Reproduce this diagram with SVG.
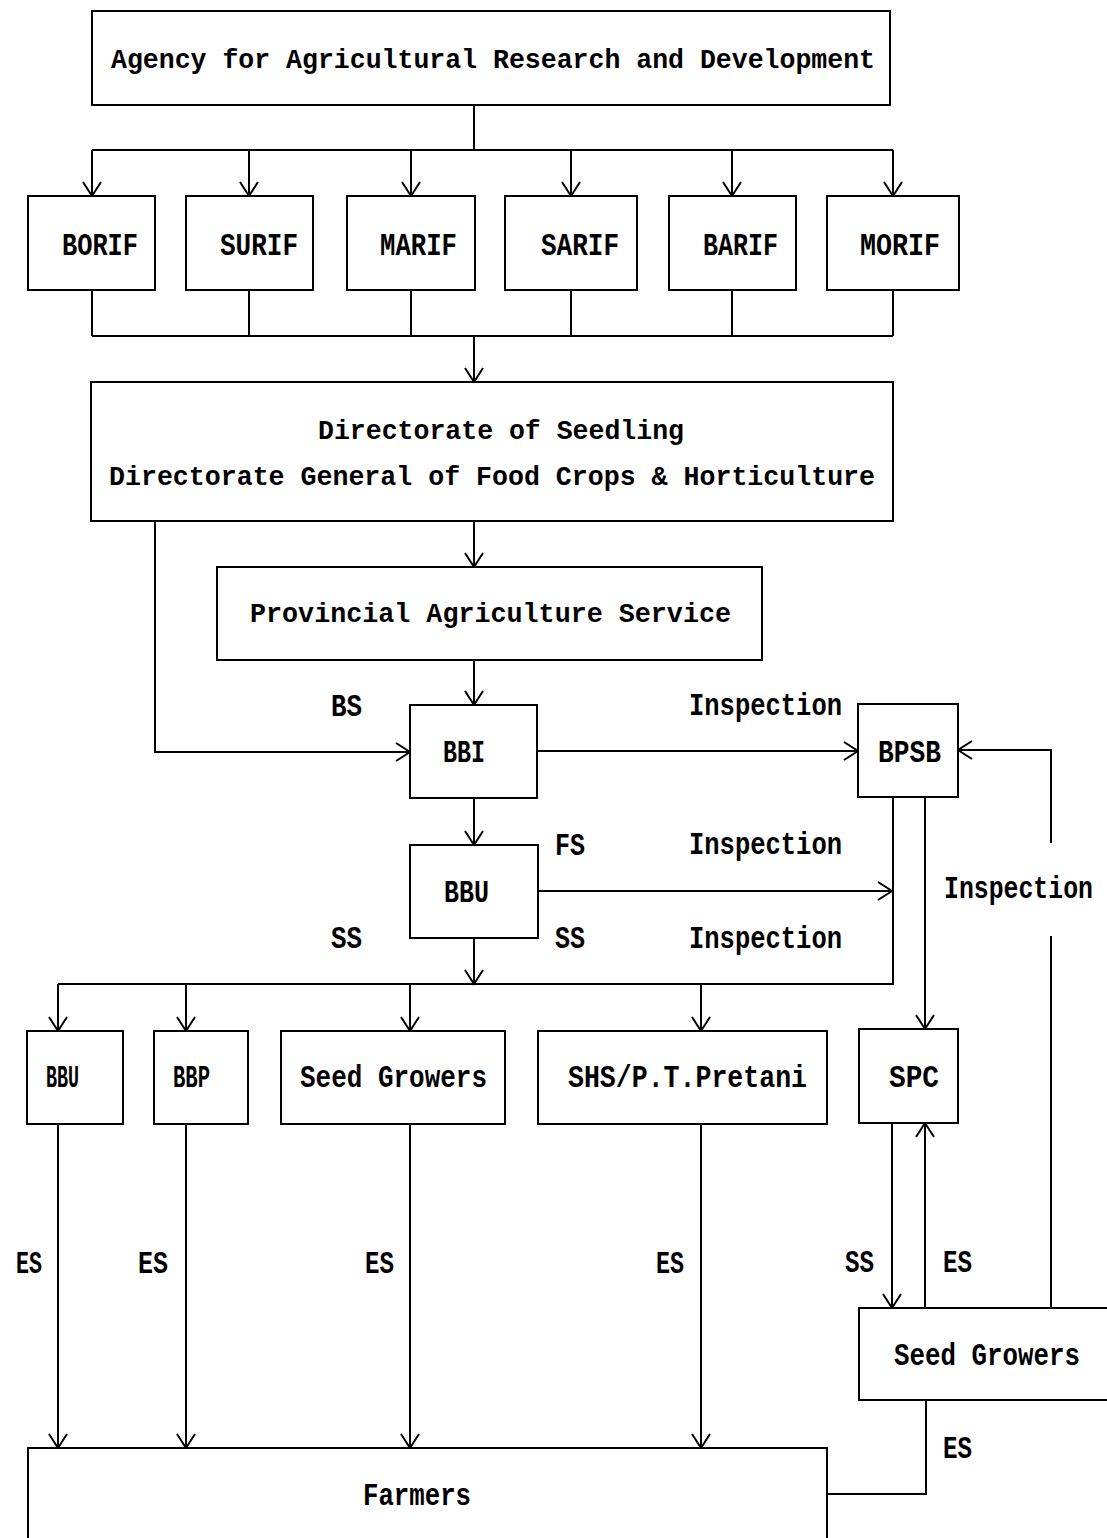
<svg xmlns="http://www.w3.org/2000/svg" width="1107" height="1538" viewBox="0 0 1107 1538">
<style>
.box{fill:#fff;stroke:#000;stroke-width:2}
.ln{fill:none;stroke:#000;stroke-width:2}
.ar{fill:none;stroke:#000;stroke-width:2;marker-end:url(#a)}
text{font-family:"Liberation Mono",monospace;fill:#000;font-weight:bold}
.t{font-size:28px}
.s{font-size:32px}
</style>
<defs>
<marker id="a" markerUnits="userSpaceOnUse" orient="auto" refX="0" refY="0" markerWidth="18" markerHeight="24" viewBox="-16 -12 18 24" overflow="visible">
<path d="M-14,-9 L0,0 L-14,9" fill="none" stroke="#000" stroke-width="2"/>
</marker>
</defs>
<rect width="1107" height="1538" fill="#fff"/>

<g id="connectors">
<path class="ln" d="M474,105 V150 M92,150 H893"/>
<path class="ar" d="M92,150 V196"/>
<path class="ar" d="M249,150 V196"/>
<path class="ar" d="M411,150 V196"/>
<path class="ar" d="M571,150 V196"/>
<path class="ar" d="M732,150 V196"/>
<path class="ar" d="M893,150 V196"/>
<path class="ln" d="M92,290 V336 M249,290 V336 M411,290 V336 M571,290 V336 M732,290 V336 M893,290 V336 M92,336 H893"/>
<path class="ar" d="M474,336 V382"/>
<path class="ar" d="M155,521 V752 H410"/>
<path class="ar" d="M474,521 V567"/>
<path class="ar" d="M474,660 V705"/>
<path class="ar" d="M537,751 H858"/>
<path class="ar" d="M1051,843 V750 H958"/>
<path class="ln" d="M1051,1308 V936"/>
<path class="ar" d="M474,798 V845"/>
<path class="ar" d="M538,891 H892"/>
<path class="ln" d="M893,797 V984 H58"/>
<path class="ar" d="M474,938 V984"/>
<path class="ar" d="M58,984 V1031"/>
<path class="ar" d="M186,984 V1031"/>
<path class="ar" d="M410,984 V1031"/>
<path class="ar" d="M701,984 V1031"/>
<path class="ar" d="M925,797 V1029"/>
<path class="ar" d="M58,1124 V1448"/>
<path class="ar" d="M186,1124 V1448"/>
<path class="ar" d="M410,1124 V1448"/>
<path class="ar" d="M701,1124 V1448"/>
<path class="ar" d="M892,1123 V1308"/>
<path class="ar" d="M925,1308 V1123"/>
<path class="ln" d="M926,1400 V1494 H827"/>
</g>

<g id="agency"><rect class="box" x="92" y="11" width="798" height="94"/>
<text class="t" x="111" y="68" textLength="764" lengthAdjust="spacingAndGlyphs">Agency for Agricultural Research and Development</text></g>

<g id="borif"><rect class="box" x="28" y="196" width="127" height="94"/><text class="s" x="62" y="255" textLength="76" lengthAdjust="spacingAndGlyphs">BORIF</text></g>
<g id="surif"><rect class="box" x="186" y="196" width="127" height="94"/><text class="s" x="220" y="255" textLength="78" lengthAdjust="spacingAndGlyphs">SURIF</text></g>
<g id="marif"><rect class="box" x="347" y="196" width="128" height="94"/><text class="s" x="380" y="255" textLength="77" lengthAdjust="spacingAndGlyphs">MARIF</text></g>
<g id="sarif"><rect class="box" x="505" y="196" width="132" height="94"/><text class="s" x="541" y="255" textLength="78" lengthAdjust="spacingAndGlyphs">SARIF</text></g>
<g id="barif"><rect class="box" x="669" y="196" width="127" height="94"/><text class="s" x="703" y="255" textLength="75" lengthAdjust="spacingAndGlyphs">BARIF</text></g>
<g id="morif"><rect class="box" x="827" y="196" width="132" height="94"/><text class="s" x="860" y="255" textLength="80" lengthAdjust="spacingAndGlyphs">MORIF</text></g>

<g id="directorate"><rect class="box" x="91" y="382" width="802" height="139"/>
<text class="t" x="318" y="439" textLength="366" lengthAdjust="spacingAndGlyphs">Directorate of Seedling</text>
<text class="t" x="109" y="485" textLength="766" lengthAdjust="spacingAndGlyphs">Directorate General of Food Crops &amp; Horticulture</text></g>

<g id="provincial"><rect class="box" x="217" y="567" width="545" height="93"/>
<text class="t" x="250" y="622" textLength="481" lengthAdjust="spacingAndGlyphs">Provincial Agriculture Service</text></g>

<g id="bbi"><rect class="box" x="410" y="705" width="127" height="93"/><text class="s" x="443" y="762" textLength="42" lengthAdjust="spacingAndGlyphs">BBI</text></g>
<g id="bpsb"><rect class="box" x="858" y="704" width="100" height="93"/><text class="s" x="878" y="762" textLength="63" lengthAdjust="spacingAndGlyphs">BPSB</text></g>
<g id="bbu1"><rect class="box" x="410" y="845" width="128" height="93"/><text class="s" x="444" y="902" textLength="45" lengthAdjust="spacingAndGlyphs">BBU</text></g>

<g id="bbu2"><rect class="box" x="27" y="1031" width="96" height="93"/><text class="s" x="46" y="1087" textLength="33" lengthAdjust="spacingAndGlyphs">BBU</text></g>
<g id="bbp"><rect class="box" x="154" y="1031" width="94" height="93"/><text class="s" x="173" y="1087" textLength="37" lengthAdjust="spacingAndGlyphs">BBP</text></g>
<g id="seedgrowers1"><rect class="box" x="281" y="1031" width="224" height="93"/><text class="s" x="300" y="1087" textLength="187" lengthAdjust="spacingAndGlyphs">Seed Growers</text></g>
<g id="shs"><rect class="box" x="538" y="1031" width="289" height="93"/><text class="s" x="568" y="1087" textLength="239" lengthAdjust="spacingAndGlyphs">SHS/P.T.Pretani</text></g>
<g id="spc"><rect class="box" x="859" y="1029" width="99" height="94"/><text class="s" x="889" y="1087" textLength="50" lengthAdjust="spacingAndGlyphs">SPC</text></g>

<g id="seedgrowers2"><path class="box" d="M1107,1308 H859 V1400 H1107"/><text class="s" transform="translate(894,1365) scale(0.807,1)" x="0" y="0">Seed Growers</text></g>
<g id="farmers"><path class="box" d="M28,1538 V1448 H827 V1538"/><text class="s" x="363" y="1505" textLength="108" lengthAdjust="spacingAndGlyphs">Farmers</text></g>

<g id="labels" class="s">
<text x="331" y="716" textLength="31" lengthAdjust="spacingAndGlyphs">BS</text>
<text x="689" y="715" textLength="153" lengthAdjust="spacingAndGlyphs">Inspection</text>
<text x="555" y="855" textLength="30" lengthAdjust="spacingAndGlyphs">FS</text>
<text x="689" y="854" textLength="153" lengthAdjust="spacingAndGlyphs">Inspection</text>
<text transform="translate(944,898) scale(0.776,1)" x="0" y="0">Inspection</text>
<text x="331" y="948" textLength="31" lengthAdjust="spacingAndGlyphs">SS</text>
<text x="555" y="948" textLength="30" lengthAdjust="spacingAndGlyphs">SS</text>
<text x="689" y="948" textLength="153" lengthAdjust="spacingAndGlyphs">Inspection</text>
<text x="16" y="1273" textLength="26" lengthAdjust="spacingAndGlyphs">ES</text>
<text x="138" y="1273" textLength="30" lengthAdjust="spacingAndGlyphs">ES</text>
<text x="365" y="1273" textLength="29" lengthAdjust="spacingAndGlyphs">ES</text>
<text x="656" y="1273" textLength="28" lengthAdjust="spacingAndGlyphs">ES</text>
<text x="845" y="1272" textLength="29" lengthAdjust="spacingAndGlyphs">SS</text>
<text x="943" y="1272" textLength="29" lengthAdjust="spacingAndGlyphs">ES</text>
<text x="943" y="1458" textLength="29" lengthAdjust="spacingAndGlyphs">ES</text>
</g>
</svg>
